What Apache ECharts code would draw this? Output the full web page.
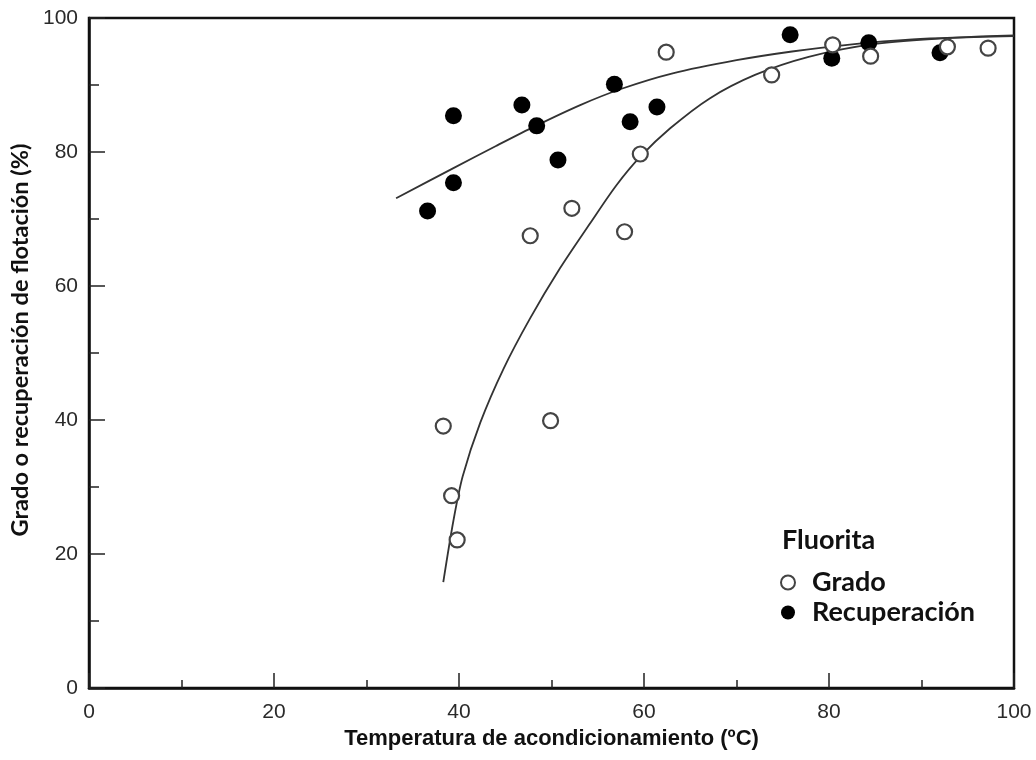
<!DOCTYPE html>
<html>
<head>
<meta charset="utf-8">
<script src="https://cdn.jsdelivr.net/npm/echarts@6/dist/echarts.min.js"></script>
<style>
  html, body { margin: 0; padding: 0; background: #ffffff; }
  #chart { width: 1036px; height: 760px; }
</style>
</head>
<body>
<div id="chart"></div>
<script>
// Data
var gradoX = [38.3, 39.2, 39.8, 47.7, 49.9, 52.2, 57.9, 59.6, 62.4, 73.8, 80.4, 84.5, 92.8, 97.2];
var gradoY = [39.1, 28.7, 22.1, 67.5, 39.9, 71.6, 68.1, 79.7, 94.9, 91.5, 96.0, 94.3, 95.7, 95.5];
var recX = [36.6, 39.4, 39.4, 46.8, 48.4, 50.7, 56.8, 58.5, 61.4, 75.8, 80.3, 84.3, 92.0];
var recY = [71.2, 85.4, 75.4, 87.0, 83.9, 78.8, 90.1, 84.5, 86.7, 97.5, 94.0, 96.3, 94.8];

// Fitted curves as drawn in the reference
var recCurveX = [33.2, 39.4, 44.0, 48.3, 53.1, 57.5, 63.0, 70.0, 76.0, 82.0, 89.0, 100];
var recCurveY = [73.1, 77.6, 80.9, 83.9, 87.0, 89.4, 91.7, 93.7, 95.0, 96.0, 96.8, 97.4];
var gradoCurveX = [38.3, 39.4, 40.4, 42.3, 44.8, 47.7, 50.9, 54.2, 57.0, 59.6, 62.8, 67.1, 72.0, 77.8, 84.8, 92.8, 100];
var gradoCurveY = [15.8, 25.0, 31.6, 39.6, 47.6, 55.2, 62.6, 69.4, 75.0, 79.3, 83.5, 88.0, 91.5, 94.2, 96.1, 97.0, 97.3];

var xTicks = [0, 20, 40, 60, 80, 100];
var yTicks = [0, 20, 40, 60, 80, 100];

function zip(xs, ys) { return xs.map(function (x, i) { return [x, ys[i]]; }); }

var chart = echarts.init(document.getElementById('chart'), null, { renderer: 'canvas' });
var labelFont = 'Liberation Sans, Arial, sans-serif';
var calFont = 'Lato, "Open Sans", sans-serif';

chart.setOption({
  backgroundColor: '#ffffff',
  animation: false,
  title: {
    text: 'Fluorita',
    left: 782,
    top: 527,
    padding: 0,
    textStyle: { fontFamily: calFont, fontWeight: 'bold', fontSize: 27, color: '#111' }
  },
  legend: {
    data: ['Grado', 'Recuperación'],
    orient: 'vertical',
    left: 780,
    top: 569,
    padding: 0,
    itemGap: 3,
    itemWidth: 14,
    itemHeight: 14,
    icon: 'circle',
    textStyle: { fontFamily: calFont, fontWeight: 'bold', fontSize: 27, color: '#111', padding: [0, 0, 0, 12] }
  },
  grid: {
    left: 89, right: 22, top: 18, bottom: 72,
    show: true, borderColor: '#111', borderWidth: 2.5, backgroundColor: 'transparent'
  },
  xAxis: {
    type: 'value', min: 0, max: 100, interval: 20,
    name: 'Temperatura de acondicionamiento (ºC)',
    nameLocation: 'middle', nameGap: 40,
    nameTextStyle: { fontFamily: labelFont, fontWeight: 'bold', fontSize: 22, color: '#111' },
    axisLine: { show: true, lineStyle: { color: '#111', width: 2.5 } },
    axisTick: { show: true, inside: true, length: 15, lineStyle: { color: '#222', width: 1.5 } },
    minorTick: { show: true, splitNumber: 2, length: 8, lineStyle: { color: '#222', width: 1.5 } },
    splitLine: { show: false },
    axisLabel: {
      margin: 14, fontFamily: labelFont, fontSize: 21, color: '#2a2a2a',
      formatter: function (v) { return xTicks.indexOf(v) >= 0 ? String(v) : ''; }
    }
  },
  yAxis: {
    type: 'value', min: 0, max: 100, interval: 20,
    name: 'Grado o recuperación de flotación (%)',
    nameLocation: 'middle', nameGap: 52,
    nameTextStyle: { fontFamily: calFont, fontWeight: 'bold', fontSize: 23.5, color: '#111', padding: [0, 0, 0, 26] },
    axisLine: { show: true, lineStyle: { color: '#111', width: 2.5 } },
    axisTick: { show: true, inside: true, length: 16, lineStyle: { color: '#222', width: 1.5 } },
    minorTick: { show: true, splitNumber: 2, length: 10, lineStyle: { color: '#222', width: 1.5 } },
    splitLine: { show: false },
    axisLabel: {
      margin: 11, fontFamily: labelFont, fontSize: 21, color: '#2a2a2a',
      formatter: function (v) { return yTicks.indexOf(v) >= 0 ? String(v) : ''; }
    }
  },
  series: [
    {
      name: 'curvaRecuperacion', type: 'line', data: zip(recCurveX, recCurveY),
      smooth: 0.3, showSymbol: false, symbol: 'none', silent: true,
      lineStyle: { color: '#333', width: 1.8 }, z: 2
    },
    {
      name: 'curvaGrado', type: 'line', data: zip(gradoCurveX, gradoCurveY),
      smooth: 0.3, showSymbol: false, symbol: 'none', silent: true,
      lineStyle: { color: '#333', width: 1.8 }, z: 2
    },
    {
      name: 'Recuperación', type: 'scatter', data: zip(recX, recY),
      symbol: 'circle', symbolSize: 17,
      itemStyle: { color: '#000', borderColor: '#000', borderWidth: 0, opacity: 1 }, z: 3
    },
    {
      name: 'Grado', type: 'scatter', data: zip(gradoX, gradoY),
      symbol: 'circle', symbolSize: 15,
      itemStyle: { color: '#fff', borderColor: '#444', borderWidth: 2.2, opacity: 1 }, z: 4
    }
  ]
});
</script>
</body>
</html>
